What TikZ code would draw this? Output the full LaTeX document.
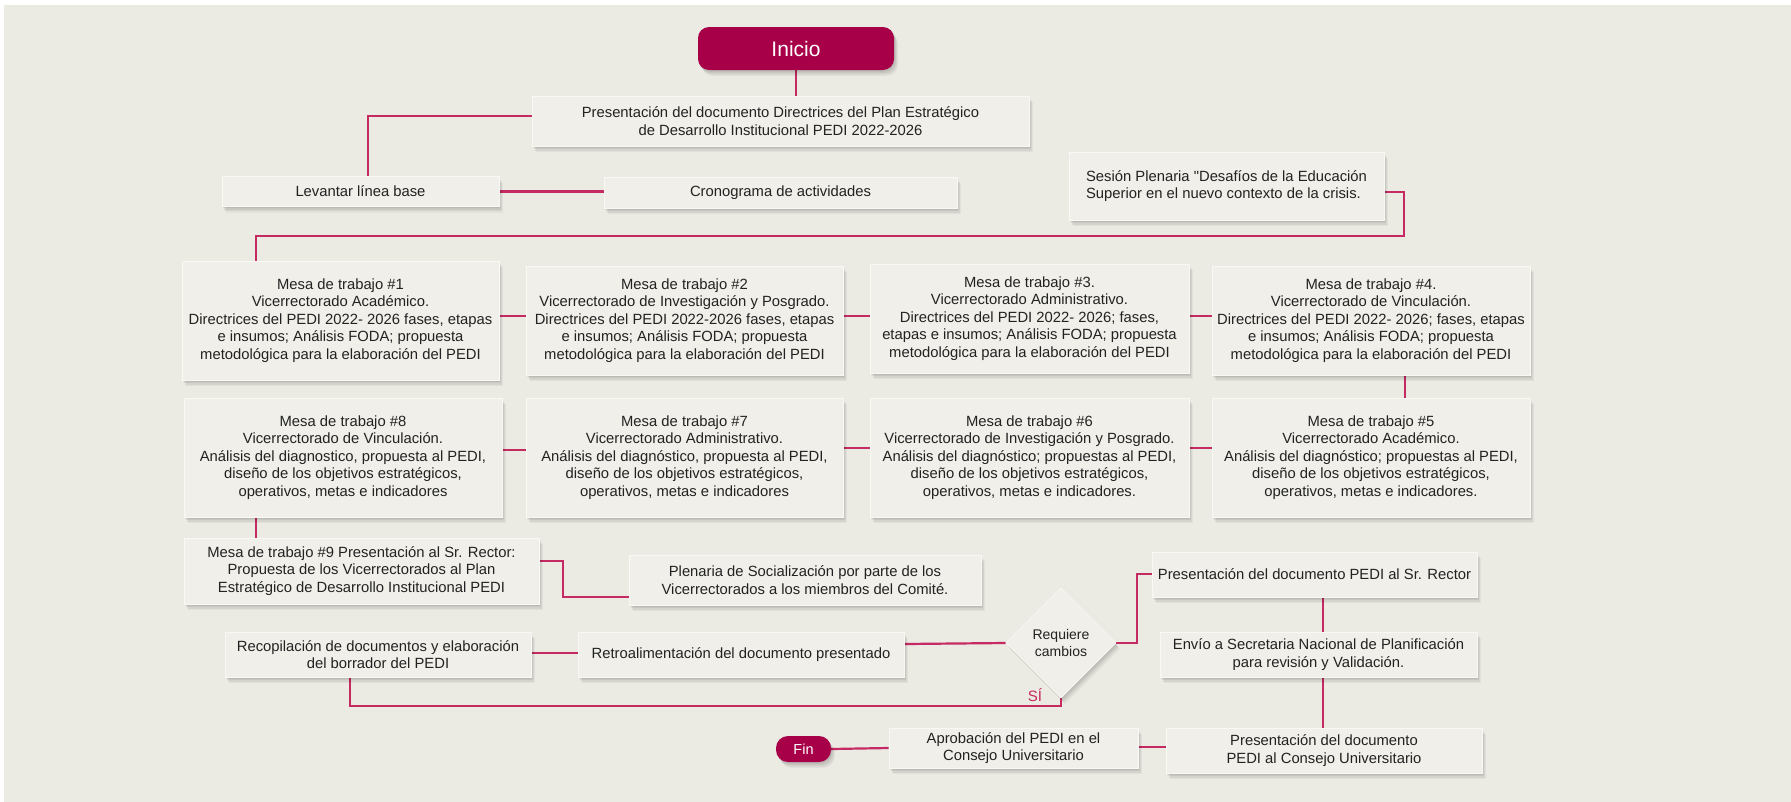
\documentclass[tikz,border=0pt]{standalone}
\usepackage{fontspec}
\setmainfont{Liberation Sans}
\newfontfamily\plainqfont{Liberation Sans}
\usetikzlibrary{shapes.geometric}
\definecolor{bgc}{RGB}{235,234,227}
\definecolor{boxc}{RGB}{240,239,233}
\definecolor{linec}{RGB}{198,42,98}
\definecolor{termc}{RGB}{168,0,72}
\definecolor{txtc}{RGB}{34,34,34}
\pgfdeclarelayer{bglayer}
\pgfdeclarelayer{linelayer}
\pgfsetlayers{bglayer,linelayer,main}
\begin{document}
\begin{tikzpicture}[x=1pt,y=-1pt,
  shade/.style={
    preaction={fill=black, fill opacity=0.06, transform canvas={xshift=1pt,yshift=-1.5pt}},
    preaction={fill=black, fill opacity=0.06, transform canvas={xshift=2pt,yshift=-3pt}},
    preaction={fill=black, fill opacity=0.06, transform canvas={xshift=3pt,yshift=-4.5pt}},
    preaction={fill=black, fill opacity=0.04, transform canvas={xshift=4pt,yshift=-6pt}}},
  box/.style={shape=rectangle, fill=boxc, draw=white!55!boxc, line width=0.6pt, inner sep=2pt, align=center,
    font=\fontsize{14.8}{17.6}\selectfont, text=txtc, shade},
  term/.style={shape=rectangle, fill=termc, text=white, inner sep=0pt, shade},
  link/.style={draw=linec, line width=2.2pt},
]
\useasboundingbox (0,0) rectangle (1791,801);
\begin{pgfonlayer}{bglayer}
\fill[white] (0,0) rectangle (1791,801);
\fill[bgc] (4,5) rectangle (1810,820);
\end{pgfonlayer}

% nodes
\node[term, rounded corners=11pt, minimum width=196pt, minimum height=43pt, font=\fontsize{21}{24}\selectfont] (inicio) at (796,48.5) {Inicio};
\node[box, minimum width=497pt, minimum height=50pt] (pres) at (780.5,121) {Presentación del documento Directrices del Plan Estratégico\\de Desarrollo Institucional PEDI 2022-2026};
\node[box, minimum width=277pt, minimum height=30pt] (lev) at (360.5,191.5) {Levantar línea base};
\node[box, minimum width=353pt, minimum height=31pt] (crono) at (780.5,192.5) {Cronograma de actividades};
\node[box, minimum width=315pt, minimum height=68pt, align=left] (ses) at (1226.5,186) {Sesión Plenaria {\plainqfont"}Desafíos de la Educación\\Superior en el nuevo contexto de la crisis.};

\node[box, minimum width=317pt, minimum height=119pt] (m1) at (340.5,320.5) {Mesa de trabajo \#1\\Vicerrectorado Académico.\\Directrices del PEDI 2022- 2026 fases, etapas\\e insumos; Análisis FODA; propuesta\\metodológica para la elaboración del PEDI};
\node[box, minimum width=317pt, minimum height=109pt] (m2) at (684.5,320.5) {Mesa de trabajo \#2\\Vicerrectorado de Investigación y Posgrado.\\Directrices del PEDI 2022-2026 fases, etapas\\e insumos; Análisis FODA; propuesta\\metodológica para la elaboración del PEDI};
\node[box, minimum width=319pt, minimum height=109pt] (m3) at (1029.5,318.5) {Mesa de trabajo \#3.\\Vicerrectorado Administrativo.\\Directrices del PEDI 2022- 2026; fases,\\etapas e insumos; Análisis FODA; propuesta\\metodológica para la elaboración del PEDI};
\node[box, minimum width=318pt, minimum height=109pt] (m4) at (1371,320.5) {Mesa de trabajo \#4.\\Vicerrectorado de Vinculación.\\Directrices del PEDI 2022- 2026; fases, etapas\\e insumos; Análisis FODA; propuesta\\metodológica para la elaboración del PEDI};

\node[box, minimum width=318pt, minimum height=119pt] (m8) at (343,457.5) {Mesa de trabajo \#8\\Vicerrectorado de Vinculación.\\Análisis del diagnostico, propuesta al PEDI,\\diseño de los objetivos estratégicos,\\operativos, metas e indicadores};
\node[box, minimum width=317pt, minimum height=119pt] (m7) at (684.5,457.5) {Mesa de trabajo \#7\\Vicerrectorado Administrativo.\\Análisis del diagnóstico, propuesta al PEDI,\\diseño de los objetivos estratégicos,\\operativos, metas e indicadores};
\node[box, minimum width=319pt, minimum height=119pt] (m6) at (1029.5,457.5) {Mesa de trabajo \#6\\Vicerrectorado de Investigación y Posgrado.\\Análisis del diagnóstico; propuestas al PEDI,\\diseño de los objetivos estratégicos,\\operativos, metas e indicadores.};
\node[box, minimum width=318pt, minimum height=119pt] (m5) at (1371,457.5) {Mesa de trabajo \#5\\Vicerrectorado Académico.\\Análisis del diagnóstico; propuestas al PEDI,\\diseño de los objetivos estratégicos,\\operativos, metas e indicadores.};

\node[box, minimum width=355pt, minimum height=66pt] (m9) at (361.5,571) {Mesa de trabajo \#9 Presentación al Sr. Rector:\\Propuesta de los Vicerrectorados al Plan\\Estratégico de Desarrollo Institucional PEDI};
\node[box, minimum width=352pt, minimum height=50pt] (plen) at (805,580) {Plenaria de Socialización por parte de los\\Vicerrectorados a los miembros del Comité.};
\node[box, minimum width=306pt, minimum height=45pt] (recop) at (378,654.5) {Recopilación de documentos y elaboración\\del borrador del PEDI};
\node[box, minimum width=326pt, minimum height=45pt] (retro) at (741,654.5) {Retroalimentación del documento presentado};
\node[box, shape=diamond, shape aspect=1, inner sep=0pt, minimum width=110pt, minimum height=110pt, font=\fontsize{14}{17}\selectfont] (dia) at (1061,643) {Requiere\\cambios};
\node[box, minimum width=325pt, minimum height=45pt] (rector) at (1314.5,574.5) {Presentación del documento PEDI al Sr. Rector};
\node[box, minimum width=317pt, minimum height=45pt] (envio) at (1318.5,654.5) {Envío a Secretaria Nacional de Planificación\\para revisión y Validación.};
\node[box, minimum width=316pt, minimum height=45pt] (consejo) at (1324,750.5) {Presentación del documento\\PEDI al Consejo Universitario};
\node[box, minimum width=249pt, minimum height=40pt] (aprob) at (1013.5,748) {Aprobación del PEDI en el\\Consejo Universitario};
\node[term, rounded corners=12pt, minimum width=55pt, minimum height=26pt, font=\fontsize{14.5}{16}\selectfont] (fin) at (803.5,749) {Fin};
\node[text=linec, font=\fontsize{15}{16}\selectfont, inner sep=0pt] (si) at (1035,695) {SÍ};

% connectors
\begin{pgfonlayer}{linelayer}
\draw[link] (inicio.south) -- (inicio.south |- pres.north);
\draw[link] (pres.west |- 0,116) -| (368,0 |- lev.north);
\draw[link] (lev.east) -- (lev.east -| crono.west);
\draw[link] (ses.east |- 0,192) -| (1404,236) -| (m1.north -| 256,0);
\draw[link] (m1.east |- 0,316) -- (m2.west |- 0,316);
\draw[link] (m2.east |- 0,316) -- (m3.west |- 0,316);
\draw[link] (m3.east |- 0,316) -- (m4.west |- 0,316);
\draw[link] (m4.south -| 1405,0) -- (m5.north -| 1405,0);
\draw[link] (m5.west |- 0,448) -- (m6.east |- 0,448);
\draw[link] (m6.west |- 0,448) -- (m7.east |- 0,448);
\draw[link] (m7.west |- 0,450) -- (m8.east |- 0,450);
\draw[link] (m8.south -| 256,0) -- (m9.north -| 256,0);
\draw[link] (m9.east |- 0,561) -| (563,597) -- (plen.west |- 0,597);
\draw[link] (recop.east |- 0,653) -- (retro.west |- 0,653);
\draw[link] (retro.east |- 0,644) -- (dia.west);
\draw[link] (dia.east) -| (1137,574) -- (rector.west |- 0,574);
\draw[link] (rector.south -| 1323,0) -- (envio.north -| 1323,0);
\draw[link] (envio.south -| 1323,0) -- (consejo.north -| 1323,0);
\draw[link] (consejo.west |- 0,747) -- (aprob.east |- 0,747);
\draw[link] (aprob.west |- 0,748) -- (fin.east);
\draw[link] (dia.south) -- (1061,706) -| (recop.south -| 350,0);
\end{pgfonlayer}
\end{tikzpicture}
\end{document}
